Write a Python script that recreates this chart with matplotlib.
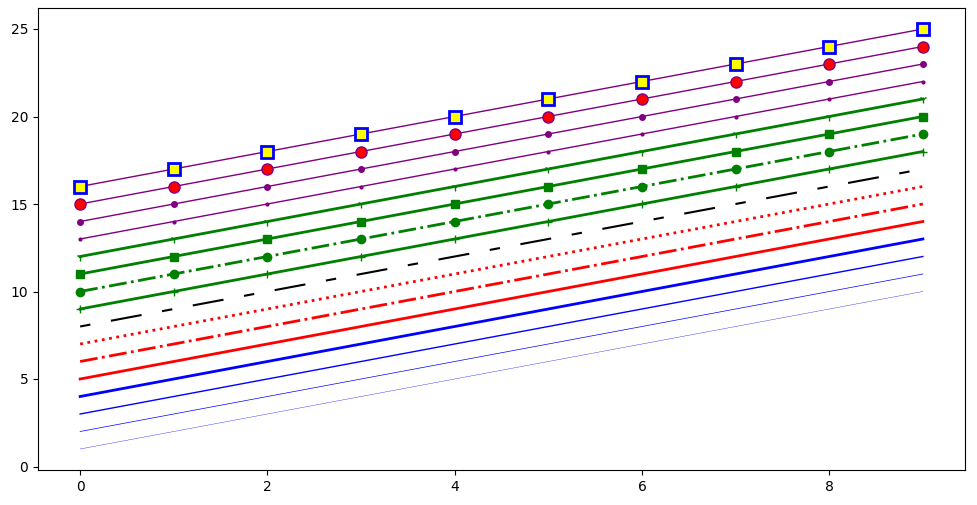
import numpy as np
import matplotlib
matplotlib.use('Agg')
import matplotlib.pyplot as plt

x = np.arange(10)
offsets = list(range(1, 17))

fig = plt.figure(figsize=(9.77, 5.05), dpi=100)
ax = fig.add_axes([38 / 977, 1 - 470 / 505, (965 - 38) / 977, (470 - 8) / 505])

ax.plot(x, x + offsets[0], color='blue', linewidth=0.25)
ax.plot(x, x + offsets[1], color='blue', linewidth=0.50)
ax.plot(x, x + offsets[2], color='blue', linewidth=1.00)
ax.plot(x, x + offsets[3], color='blue', linewidth=2.00)

ax.plot(x, x + offsets[4], color='red', lw=2, linestyle='-')
ax.plot(x, x + offsets[5], color='red', lw=2, ls='-.')
ax.plot(x, x + offsets[6], color='red', lw=2, ls=':')

line, = ax.plot(x, x + offsets[7], color='black', lw=1.50)
line.set_dashes([5, 10, 15, 10])

ax.plot(x, x + offsets[8], color='green', lw=2, ls='-', marker='+')
ax.plot(x, x + offsets[9], color='green', lw=2, ls='-.', marker='o')
ax.plot(x, x + offsets[10], color='green', lw=2, ls='-', marker='s')
ax.plot(x, x + offsets[11], color='green', lw=2, ls='-', marker='1')

ax.plot(x, x + offsets[12], color='purple', lw=1, ls='-', marker='o', markersize=2)
ax.plot(x, x + offsets[13], color='purple', lw=1, ls='-', marker='o', markersize=4)
ax.plot(x, x + offsets[14], color='purple', lw=1, ls='-', marker='o', markersize=8,
        markerfacecolor='red')
ax.plot(x, x + offsets[15], color='purple', lw=1, ls='-', marker='s', markersize=8,
        markerfacecolor='yellow', markeredgewidth=2, markeredgecolor='blue')

fig.savefig('out.png')
